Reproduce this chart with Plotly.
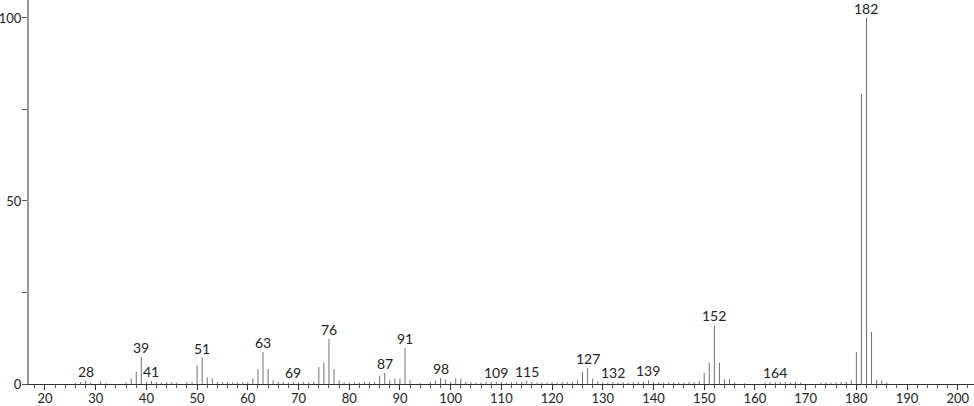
import plotly.graph_objects as go

mz = [26, 27, 28, 29, 31, 32, 36, 37, 38, 39, 40, 41, 42, 43, 44, 45, 46, 48, 49,
      50, 51, 52, 53, 54, 55, 56, 57, 58, 59, 60, 61, 62, 63, 64, 65, 66, 67, 68, 69,
      70, 71, 72, 73, 74, 75, 76, 77, 78, 79, 80, 81, 82, 83, 84, 85, 86, 87, 88, 89,
      90, 91, 92, 94, 96, 97, 98, 99, 100, 101, 102, 103, 104, 105, 106, 107, 108, 109,
      110, 111, 112, 113, 114, 115, 116, 117, 118, 119, 120, 121, 122, 123, 124, 125,
      126, 127, 128, 129, 130, 131, 132, 133, 134, 135, 136, 137, 138, 139, 140, 141,
      142, 143, 144, 145, 146, 147, 148, 149, 150, 151, 152, 153, 154, 155, 156, 158,
      162, 163, 164, 165, 166, 167, 168, 169, 173, 174, 175, 176, 177, 178, 179, 180,
      181, 182, 183, 184, 185, 186]
intensity = [0.3, 0.5, 0.8, 0.4, 0.7, 0.2, 0.4, 1.5, 3.3, 7.4, 0.5, 0.8, 0.5, 0.4, 0.5, 0.5, 0.4, 0.5, 0.6,
             5.0, 7.2, 1.8, 1.5, 0.6, 0.5, 0.4, 0.5, 0.4, 0.5, 0.5, 1.5, 4.0, 8.7, 4.1, 1.0, 0.6, 0.5, 0.4, 0.5,
             0.4, 0.5, 0.4, 0.6, 4.6, 5.8, 12.3, 4.0, 1.0, 0.5, 0.4, 0.5, 0.4, 0.5, 0.5, 0.6, 2.3, 3.0, 1.0, 1.5,
             1.5, 9.8, 1.0, 0.3, 0.6, 0.9, 1.6, 1.2, 0.6, 1.5, 1.5, 0.6, 0.5, 0.4, 0.4, 0.5, 0.5, 0.6,
             0.5, 0.4, 0.4, 0.5, 0.6, 0.9, 0.5, 0.4, 0.4, 0.4, 0.5, 0.4, 0.5, 0.5, 0.6, 1.0,
             3.3, 4.4, 1.5, 0.7, 0.4, 0.4, 0.5, 0.4, 0.5, 0.4, 0.5, 0.5, 0.6, 1.0, 0.5, 0.4,
             0.4, 0.4, 0.5, 0.4, 0.4, 0.5, 0.5, 0.8, 3.0, 5.8, 16.0, 5.8, 1.3, 1.3, 0.4, 0.2,
             0.4, 0.5, 0.5, 0.5, 0.5, 0.4, 0.5, 0.4, 0.4, 0.5, 0.4, 0.5, 0.5, 0.6, 1.0, 8.7,
             79.2, 100, 14.2, 1.2, 1.0, 0.4]
labeled_peaks = [28, 39, 41, 51, 63, 69, 76, 87, 91, 98, 109, 115, 127, 132, 139, 152, 164, 182]

xs, ys = [], []
for m, v in zip(mz, intensity):
    xs += [m, m, None]
    ys += [0, v, None]

fig = go.Figure()
fig.add_trace(go.Scatter(x=xs, y=ys, mode="lines",
                         line=dict(color="#707070", width=1), hoverinfo="skip",
                         showlegend=False))

lookup = dict(zip(mz, intensity))
for m in labeled_peaks:
    fig.add_annotation(x=m, y=lookup[m], text=str(m), showarrow=False,
                       yanchor="bottom", yshift=-1,
                       font=dict(size=14, color="#222222", family="Lato"))

fig.update_layout(
    width=974, height=406,
    margin=dict(l=29, r=0, t=0, b=22, autoexpand=False),
    paper_bgcolor="white", plot_bgcolor="white",
    font=dict(family="Lato", size=13, color="#222222"),
    xaxis=dict(range=[16.85, 203.2], tickvals=list(range(20, 201, 10)),
               ticks="outside", ticklen=5, tickcolor="#333333",
               showline=True, linecolor="#333333", linewidth=1,
               showgrid=False, zeroline=False, automargin=False,
               ticklabelstandoff=-3,
               minor=dict(dtick=2, tick0=0, ticks="outside", ticklen=3, tickcolor="#555555"),
               tickfont=dict(size=13)),
    yaxis=dict(range=[0, 104.9], tickvals=[0, 25, 50, 75, 100],
               ticktext=["0", "", "50", "", "100"],
               ticks="outside", ticklen=5, tickcolor="#555555",
               showline=True, linecolor="#999999", linewidth=2,
               showgrid=False, zeroline=False, automargin=False,
               ticklabelstandoff=-2,
               tickfont=dict(size=13)),
)

fig.write_html("out.html", config={"displayModeBar": False},
               post_script="document.body.style.margin='0';document.body.style.padding='0';")
